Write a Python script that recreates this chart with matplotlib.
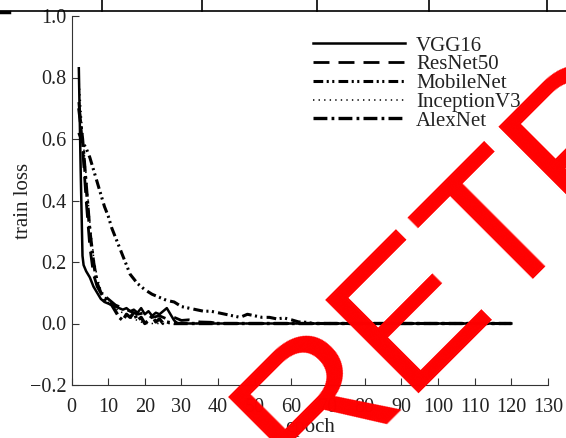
import numpy as np
import matplotlib
matplotlib.use('Agg')
import matplotlib.pyplot as plt
from matplotlib.lines import Line2D

plt.rcParams['font.family'] = ['Liberation Serif', 'DejaVu Serif']
plt.rcParams['lines.scale_dashes'] = False

# data
vgg_epoch = [2, 2.5, 3, 3.3, 4, 5, 6, 7, 8, 9, 10, 11, 12, 13, 14, 15, 16, 17, 18, 19,
             20, 21, 22, 23, 24, 25, 26, 27, 28, 29, 30, 120]
vgg_loss = [0.83, 0.5, 0.22, 0.19, 0.17, 0.15, 0.12, 0.10, 0.08, 0.07, 0.065, 0.06, 0.055,
            0.05, 0.045, 0.05, 0.04, 0.045, 0.035, 0.05, 0.03, 0.04, 0.025, 0.035, 0.03,
            0.04, 0.05, 0.03, 0.01, 0.0, 0.0, 0.0]

resnet_epoch = [2, 3, 4, 5, 6, 7, 8, 9, 10, 12, 14, 16, 18, 20, 22, 24, 26, 28, 30, 32,
                35, 38, 40, 120]
resnet_loss = [0.72, 0.58, 0.40, 0.25, 0.16, 0.12, 0.10, 0.09, 0.08, 0.06, 0.05, 0.04,
               0.03, 0.035, 0.02, 0.025, 0.015, 0.02, 0.01, 0.012, 0.005, 0.004, 0.0, 0.0]

mobilenet_epoch = [2, 3, 4, 5, 6, 7, 8, 9, 10, 11, 12, 13, 14, 15, 16, 17, 18, 20, 22, 24,
                   26, 28, 30, 32, 34, 36, 38, 40, 42, 44, 46, 48, 50, 52, 54, 56, 58, 60,
                   62, 64, 66, 120]
mobilenet_loss = [0.62, 0.59, 0.57, 0.54, 0.50, 0.46, 0.42, 0.38, 0.35, 0.31, 0.28, 0.25,
                  0.22, 0.19, 0.16, 0.145, 0.13, 0.11, 0.095, 0.085, 0.075, 0.07, 0.055,
                  0.05, 0.045, 0.04, 0.04, 0.035, 0.03, 0.025, 0.02, 0.03, 0.025, 0.02,
                  0.02, 0.015, 0.018, 0.012, 0.005, 0.004, 0.0, 0.0]

inception_epoch = [2, 3, 4, 5, 6, 7, 8, 9, 10, 11, 12, 13, 14, 15, 16, 17, 18, 19, 20, 120]
inception_loss = [0.80, 0.62, 0.48, 0.33, 0.22, 0.15, 0.11, 0.09, 0.07, 0.06, 0.05, 0.04,
                  0.035, 0.03, 0.02, 0.015, 0.01, 0.005, 0.0, 0.0]

alexnet_epoch = [2, 3, 4, 5, 6, 7, 8, 9, 10, 11, 12, 13, 14, 15, 16, 17, 18, 19, 20, 21,
                 22, 23, 24, 25, 26, 28, 30, 120]
alexnet_loss = [0.70, 0.60, 0.45, 0.30, 0.20, 0.13, 0.10, 0.08, 0.07, 0.06, 0.04, 0.02,
                0.01, 0.03, 0.02, 0.035, 0.01, 0.02, 0.0, 0.01, 0.025, 0.005, 0.015, 0.0,
                0.005, 0.0, 0.0, 0.0]

labels = ['VGG16', 'ResNet50', 'MobileNet', 'InceptionV3', 'AlexNet']
x_ticks = [0, 10, 20, 30, 40, 50, 60, 70, 80, 90, 100, 110, 120, 130]
y_ticks = [-0.2, 0.0, 0.2, 0.4, 0.6, 0.8, 1.0]

fig = plt.figure(figsize=(5.66, 4.38), dpi=100)
ax = fig.add_axes([71.5/566, 1-385/438, (548-71.5)/566, (385-16)/438])

ax.plot(vgg_epoch, vgg_loss, color='black', lw=1.8, label=labels[0])
ax.plot(resnet_epoch, resnet_loss, color='black', lw=2.0, dashes=(11.5, 6.5), label=labels[1])
ax.plot(mobilenet_epoch, mobilenet_loss, color='black', lw=2.2,
        dashes=(7, 2.5, 1.5, 2.5, 1.5, 3), label=labels[2])
ax.plot(inception_epoch, inception_loss, color='black', lw=1.1, dashes=(1, 3), label=labels[3])
ax.plot(alexnet_epoch, alexnet_loss, color='black', lw=2.4, dashes=(10, 3, 2, 3), label=labels[4])

ax.set_xlim(0, 130)
ax.set_ylim(-0.2, 1.0)
ax.set_xticks(x_ticks)
ax.set_yticks(y_ticks)
ax.set_yticklabels(['\u22120.2', '0.0', '0.2', '0.4', '0.6', '0.8', '1.0'])
ax.spines['top'].set_visible(False)
ax.spines['right'].set_visible(False)
ax.spines['left'].set_color('#333333')
ax.spines['bottom'].set_color('#333333')
ax.tick_params(direction='in', length=5, labelsize=14.5, colors='#333333', labelcolor='#222222')
ax.tick_params(axis='x', pad=9)
ax.set_xlabel('epoch', fontsize=15, color='#222222', labelpad=1)
ax.set_ylabel('train loss', fontsize=15, color='#222222', labelpad=-2)

leg = ax.legend(loc='upper left', bbox_to_anchor=(313/566, 1-36/438), bbox_transform=fig.transFigure,
                frameon=False, fontsize=15, handlelength=4.4, handletextpad=0.55,
                labelspacing=-0.04, borderpad=0, borderaxespad=0)
for t in leg.get_texts():
    t.set_color('#222222')

# fragment of a table above the chart
fig.add_artist(Line2D([0, 1], [1-11/438, 1-11/438], color='black', lw=1.2, transform=fig.transFigure))
fig.add_artist(Line2D([0, 9/566], [1-12/438, 1-12/438], color='black', lw=2.5, transform=fig.transFigure))
for xp in [102, 202, 317, 429, 547]:
    fig.add_artist(Line2D([xp/566, xp/566], [1-11/438, 1], color='black', lw=1.2, transform=fig.transFigure))

# watermark
fig.text(306/566, 1-491/438, 'RETRACTED', rotation=45, rotation_mode='anchor',
         ha='left', va='baseline', fontsize=138, color='#ff0000',
         family='Liberation Sans', zorder=10)

plt.savefig('out.png', dpi=100)
plt.clf()
